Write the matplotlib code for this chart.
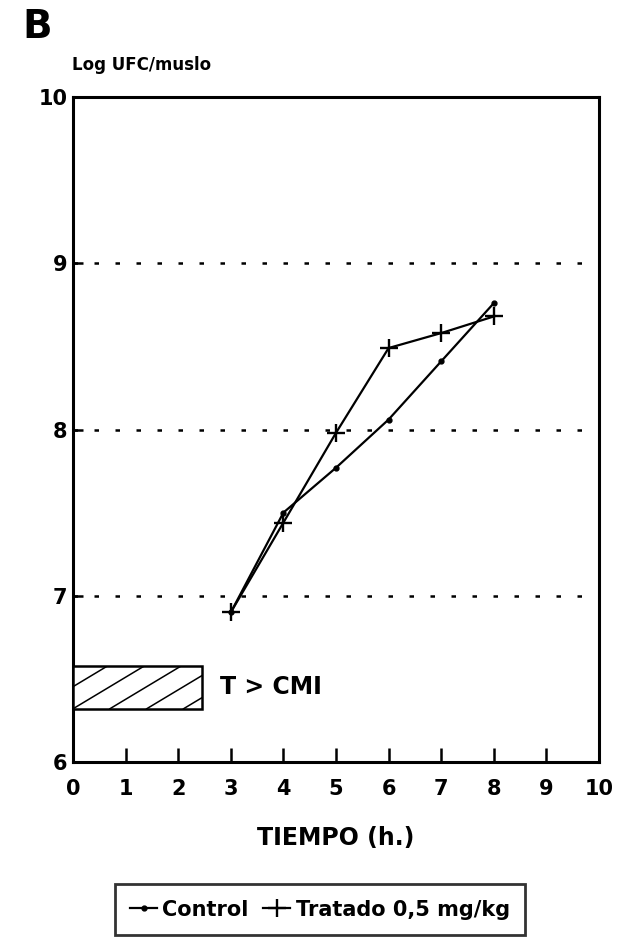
import numpy as np
import matplotlib.pyplot as plt
from matplotlib.patches import Rectangle
from matplotlib.lines import Line2D

plt.rcParams['font.family'] = ['DejaVu Sans']
plt.rcParams['font.weight'] = 'bold'

# data
tiempo = [3, 4, 5, 6, 7, 8]
control = [6.90, 7.50, 7.77, 8.06, 8.41, 8.76]
tratado = [6.90, 7.44, 7.98, 8.49, 8.58, 8.68]
x_ticks = list(range(0, 11))
y_ticks = [6, 7, 8, 9, 10]
grid_levels = [7, 8, 9]
cmi_start, cmi_end = 0, 2.45
cmi_low, cmi_high = 6.32, 6.58

fig = plt.figure(figsize=(6.21, 9.43), dpi=100)
ax = fig.add_axes([73/621, 1 - 762/943, (599 - 73)/621, (762 - 97)/943])

ax.plot(tiempo, control, color='black', lw=1.6, marker='o', ms=3.5)
ax.plot(tiempo, tratado, color='black', lw=1.6, marker='+', ms=13, mew=1.7)

for g in grid_levels:
    ax.axhline(g, color='black', lw=1.8, dashes=(1.8, 6.6), zorder=0)

# T > CMI hatched box
rect = Rectangle((cmi_start, cmi_low), cmi_end - cmi_start, cmi_high - cmi_low,
                 facecolor='white', edgecolor='black', lw=1.8, zorder=3)
ax.add_patch(rect)
slope = 0.19  # hatch slope in data units
for x0 in np.arange(-2.1, 3.0, 0.70):
    ln, = ax.plot([x0, x0 + 2], [cmi_low, cmi_low + 2 * slope],
                  color='black', lw=1.1, zorder=4)
    ln.set_clip_path(rect)
ax.text(cmi_end + 0.35, (cmi_low + cmi_high) / 2, 'T > CMI', fontsize=17,
        fontweight='bold', va='center', ha='left')

ax.set_xlim(0, 10)
ax.set_ylim(6, 10)
ax.set_xticks(x_ticks)
ax.set_yticks(y_ticks)
ax.tick_params(axis='x', direction='in', length=10, width=1.8, pad=12, labelsize=15)
ax.tick_params(axis='y', direction='in', length=7, width=1.8, pad=4, labelsize=15)
for lab in ax.get_xticklabels() + ax.get_yticklabels():
    lab.set_fontweight('bold')
for s in ax.spines.values():
    s.set_linewidth(2.2)

ax.set_xlabel('TIEMPO (h.)', fontsize=17, fontweight='bold', labelpad=20)

fig.text(22/621, 1 - 27/943, 'B', fontsize=28, fontweight='heavy', va='center', ha='left')
fig.text(72/621, 1 - 65/943, 'Log UFC/muslo', fontsize=12, fontweight='bold',
         va='center', ha='left')

handles = [Line2D([], [], color='black', lw=1.6, marker='o', ms=3.5),
           Line2D([], [], color='black', lw=1.6, marker='+', ms=13, mew=1.7)]
leg = fig.legend(handles, ['Control', 'Tratado 0,5 mg/kg'], ncol=2,
                 loc='upper center', bbox_to_anchor=(320/621, 1 - 884/943),
                 frameon=True, fancybox=False, edgecolor='black', fontsize=15,
                 handlelength=1.3, handletextpad=0.25, columnspacing=0.7,
                 borderpad=0.75, borderaxespad=0)
leg.get_frame().set_linewidth(2.0)
for t in leg.get_texts():
    t.set_fontweight('bold')

fig.savefig('out.png', dpi=100)
